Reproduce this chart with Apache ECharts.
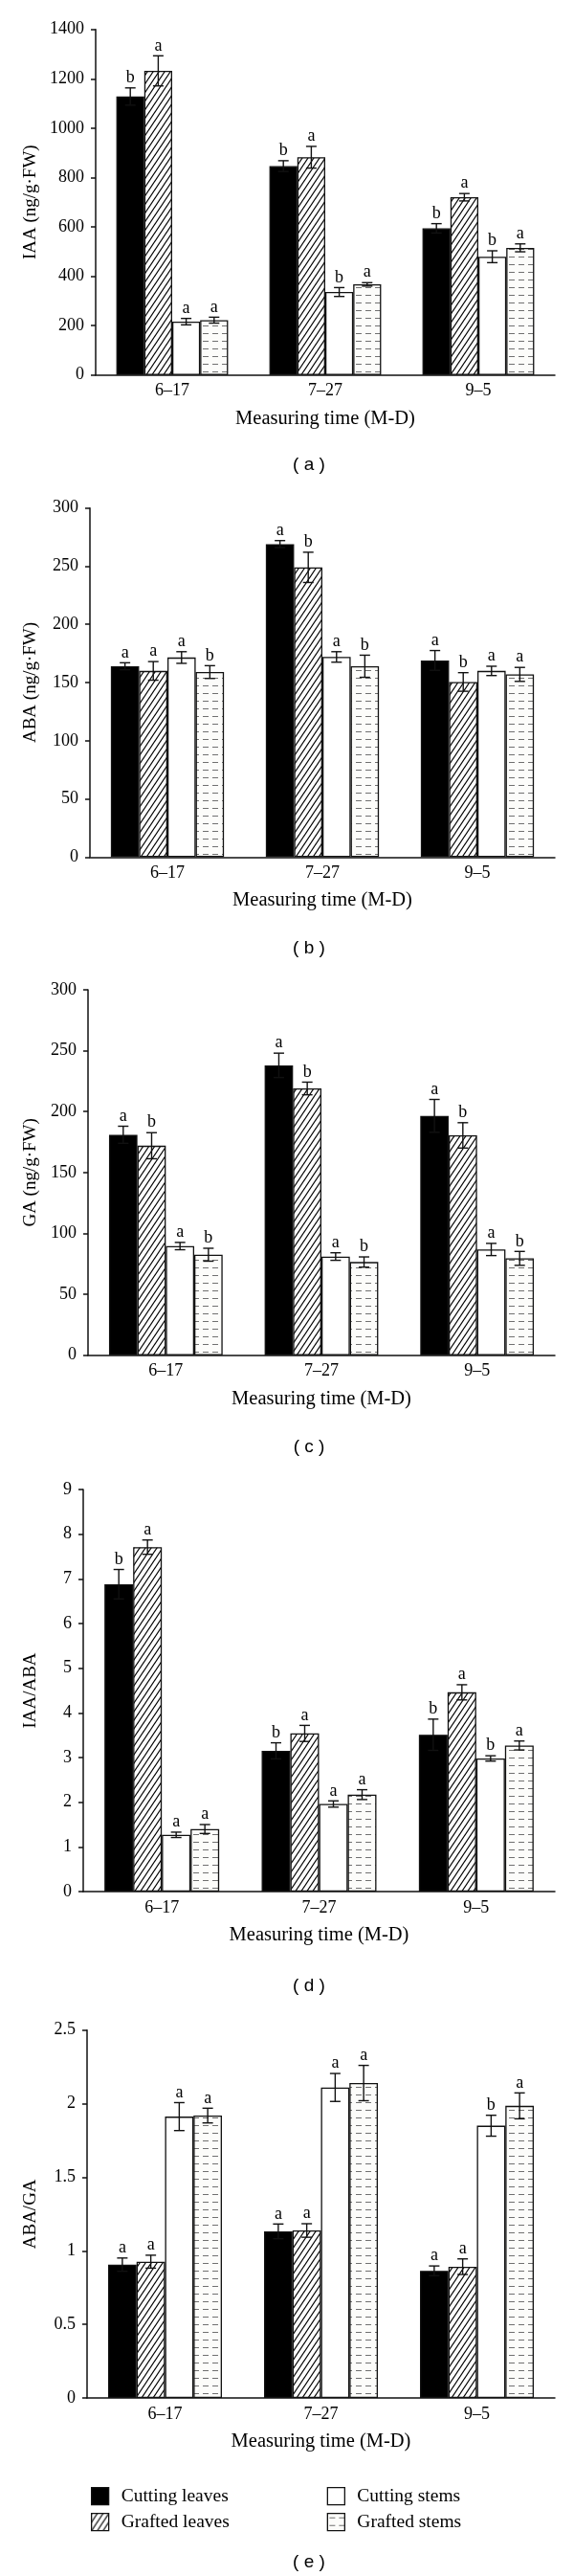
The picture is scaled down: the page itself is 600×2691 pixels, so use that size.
<!DOCTYPE html>
<html><head><meta charset="utf-8">
<script src="https://cdn.jsdelivr.net/npm/echarts@6/dist/echarts.min.js"></script>
<style>html,body{margin:0;padding:0;background:#fff}#c{width:600px;height:2691px}</style>
</head><body><div id="c"></div>
<script>
// ---------- data ----------
const categories = ['6–17', '7–27', '9–5'];
const seriesNames = ['Cutting leaves', 'Grafted leaves', 'Cutting stems', 'Grafted stems'];
const panelLetters = ['( a )', '( b )', '( c )', '( d )', '( e )'];
const yNames = ['IAA (ng/g·FW)', 'ABA (ng/g·FW)', 'GA (ng/g·FW)', 'IAA/ABA', 'ABA/GA'];
const yMax = [1400, 300, 300, 9, 2.5];
const yInterval = [200, 50, 50, 1, 0.5];
const xName = 'Measuring time (M-D)';

// rows = series (Cutting leaves, Grafted leaves, Cutting stems, Grafted stems); columns = categories
const iaaMeans   = [[1128, 846, 594], [1232, 882, 720], [216, 336, 479], [222, 367, 515]];
const iaaErrors  = [[35, 22, 19], [61, 44, 15], [13, 18, 24], [12, 7, 16]];
const iaaLetters = [['b','b','b'], ['a','a','a'], ['a','b','b'], ['a','a','a']];

const abaMeans   = [[164, 269, 169], [160, 249, 150.5], [171.5, 172, 160], [159, 164, 157]];
const abaErrors  = [[3, 3, 8.5], [8, 13, 8], [5, 4.5, 4], [5.5, 9.5, 6]];
const abaLetters = [['a','a','a'], ['a','b','b'], ['a','a','a'], ['b','b','a']];

const gaMeans    = [[181, 238, 196.5], [172, 219, 180.5], [89.6, 81, 86.8], [82.5, 76.5, 79.5]];
const gaErrors   = [[7, 10, 13.5], [10.7, 5.2, 10.4], [3, 3.1, 5], [5.3, 4.2, 5.7]];
const gaLetters  = [['a','a','a'], ['b','b','b'], ['a','a','a'], ['b','b','b']];

const iaaAbaMeans   = [[6.88, 3.15, 3.51], [7.71, 3.54, 4.46], [1.27, 1.96, 2.98], [1.40, 2.17, 3.27]];
const iaaAbaErrors  = [[0.33, 0.18, 0.35], [0.16, 0.18, 0.17], [0.06, 0.07, 0.06], [0.10, 0.11, 0.10]];
const iaaAbaLetters = [['b','b','b'], ['a','a','a'], ['a','a','b'], ['a','a','a']];

const abaGaMeans   = [[0.906, 1.132, 0.864], [0.926, 1.138, 0.892], [1.912, 2.11, 1.85], [1.919, 2.14, 1.985]];
const abaGaErrors  = [[0.045, 0.05, 0.033], [0.044, 0.046, 0.053], [0.095, 0.095, 0.071], [0.05, 0.12, 0.088]];
const abaGaLetters = [['a','a','a'], ['a','a','a'], ['a','a','b'], ['a','a','a']];

// ---------- layout ----------
const panels = [
  {means: iaaMeans, errors: iaaErrors, letters: iaaLetters},
  {means: abaMeans, errors: abaErrors, letters: abaLetters},
  {means: gaMeans, errors: gaErrors, letters: gaLetters},
  {means: iaaAbaMeans, errors: iaaAbaErrors, letters: iaaAbaLetters},
  {means: abaGaMeans, errors: abaGaErrors, letters: abaGaLetters}
];
const gridBoxes = [
  {left: 100, top: 30.7, width: 480, height: 361},
  {left: 94, top: 530.7, width: 486, height: 364.6},
  {left: 92, top: 1034, width: 488, height: 381.7},
  {left: 87, top: 1556, width: 493, height: 420},
  {left: 91, top: 2120.7, width: 489, height: 384.3}
];
const nameGaps = [58, 52, 50, 45, 49];
const panelLabelY = [485.5, 991, 1512, 2075, 2677];

const SERIF = '"Liberation Serif", "Times New Roman", serif';
const INK = '#111';

function hatchCanvas() {
  const c = document.createElement('canvas'); c.width = 6; c.height = 9;
  const g = c.getContext('2d');
  g.fillStyle = '#fff'; g.fillRect(0, 0, 6, 9);
  g.strokeStyle = '#000'; g.lineWidth = 1.2;
  for (const dx of [-6, 0, 6]) { g.beginPath(); g.moveTo(dx - 1, 10.5); g.lineTo(dx + 7, -1.5); g.stroke(); }
  return c;
}
function dashCanvas() {
  const c = document.createElement('canvas'); c.width = 10; c.height = 8;
  const g = c.getContext('2d');
  g.fillStyle = '#fcfcfa'; g.fillRect(0, 0, 10, 8);
  g.strokeStyle = '#707070'; g.lineWidth = 1;
  g.beginPath(); g.moveTo(2, 4.5); g.lineTo(8, 4.5); g.stroke();
  return c;
}
const fills = ['#000', {image: hatchCanvas(), repeat: 'repeat'}, '#fff', {image: dashCanvas(), repeat: 'repeat'}];

const grid = [], xAxis = [], yAxis = [], series = [];
panels.forEach((p, pi) => {
  grid.push(Object.assign({containLabel: false}, gridBoxes[pi]));
  xAxis.push({
    type: 'category', gridIndex: pi, data: categories,
    name: xName, nameLocation: 'middle', nameGap: 35,
    nameTextStyle: {fontFamily: SERIF, fontSize: 20.5, color: '#000'},
    axisLine: {show: true, lineStyle: {color: INK, width: 1.5}},
    axisTick: {show: false},
    axisLabel: {margin: 8, fontFamily: SERIF, fontSize: 18, color: '#000'},
    splitLine: {show: false}
  });
  yAxis.push({
    type: 'value', gridIndex: pi, min: 0, max: yMax[pi], interval: yInterval[pi],
    name: yNames[pi], nameLocation: 'middle', nameGap: nameGaps[pi],
    nameTextStyle: {fontFamily: SERIF, fontSize: 19, color: '#000'},
    axisLine: {show: true, lineStyle: {color: INK, width: 1.5}},
    axisTick: {show: true, length: 5, lineStyle: {color: INK, width: 1.5}},
    axisLabel: {margin: 12, fontFamily: SERIF, fontSize: 18, color: '#000',
      formatter: function (v) { return String(v); }},
    splitLine: {show: false}
  });
  p.means.forEach((vals, si) => {
    series.push({
      type: 'bar', name: seriesNames[si], xAxisIndex: pi, yAxisIndex: pi,
      data: vals, barGap: '0%', barCategoryGap: '27%',
      itemStyle: {color: fills[si], borderColor: INK, borderWidth: 1.3},
      emphasis: {disabled: true}, animation: false
    });
  });
  const errData = [], lettersFlat = [];
  p.means.forEach((vals, si) => vals.forEach((v, ci) => {
    errData.push([ci, v, p.errors[si][ci], si]);
    lettersFlat.push(p.letters[si][ci]);
  }));
  series.push({
    type: 'custom', xAxisIndex: pi, yAxisIndex: pi, z: 5, animation: false, silent: true,
    dimensions: ['cat', 'val', 'err', 'ser'], encode: {x: 0, y: 1},
    data: errData,
    renderItem: function (params, api) {
      const ci = api.value(0), v = api.value(1), e = api.value(2), s = api.value(3);
      const catW = api.size([1, 0])[0];
      const bw = catW * 0.73 / 4;
      const x = api.coord([ci, v])[0] + (s - 1.5) * bw;
      const yT = api.coord([ci, v + e])[1];
      const yB = api.coord([ci, v - e])[1];
      const hw = 5.5;
      const ls = {stroke: INK, lineWidth: 1.4};
      return {type: 'group', children: [
        {type: 'line', shape: {x1: x, y1: yT, x2: x, y2: yB}, style: ls},
        {type: 'line', shape: {x1: x - hw, y1: yT, x2: x + hw, y2: yT}, style: ls},
        {type: 'line', shape: {x1: x - hw, y1: yB, x2: x + hw, y2: yB}, style: ls},
        {type: 'text', style: {text: lettersFlat[params.dataIndex], x: x, y: yT - 1.5,
          align: 'center', verticalAlign: 'bottom', fontFamily: SERIF, fontSize: 18, fill: '#000'}}
      ]};
    }
  });
});

const legendText = {fontFamily: SERIF, fontSize: 19.5, color: '#000', lineHeight: 18, padding: [0, 0, 0, 8]};
function legendItem(i) { return {name: seriesNames[i], itemStyle: {color: fills[i], borderColor: INK, borderWidth: 1.3}}; }
const legend = [
  {left: 90, top: 2592.7, orient: 'vertical', icon: 'rect', itemWidth: 18, itemHeight: 18, itemGap: 7,
   selectedMode: false, textStyle: legendText, data: [legendItem(0), legendItem(1)]},
  {left: 336.7, top: 2592.7, orient: 'vertical', icon: 'rect', itemWidth: 18, itemHeight: 18, itemGap: 7,
   selectedMode: false, textStyle: legendText, data: [legendItem(2), legendItem(3)]}
];

const graphic = panelLetters.map((t, i) => ({
  type: 'text', x: 323, y: panelLabelY[i], silent: true,
  style: {text: t, align: 'center', verticalAlign: 'middle', fontFamily: '"Liberation Sans", Arial, sans-serif', fontSize: 19, fill: '#000'}
}));

const chart = echarts.init(document.getElementById('c'), null, {renderer: 'canvas', width: 600, height: 2691});
chart.setOption({
  backgroundColor: '#fff', animation: false,
  grid, xAxis, yAxis, series, legend, graphic
});
</script>
</body></html>
